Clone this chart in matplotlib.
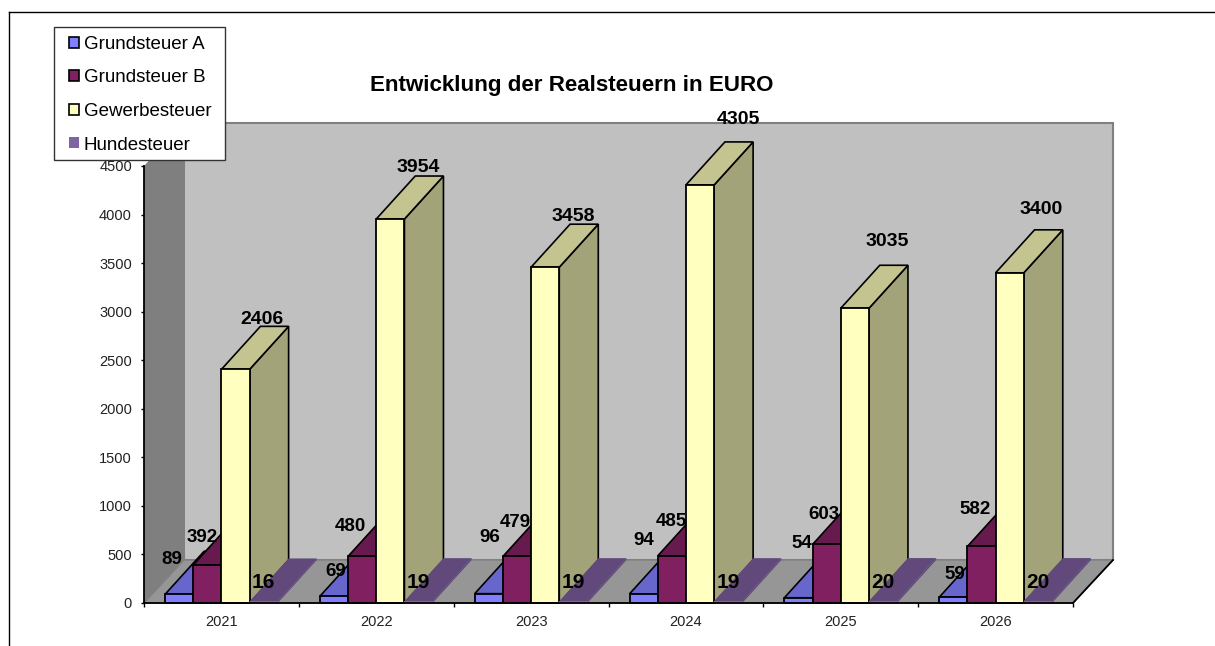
import matplotlib
matplotlib.use("Agg")
import numpy as np
import matplotlib.pyplot as plt
from matplotlib.lines import Line2D
from matplotlib.patches import Patch, Rectangle

plt.rcParams["font.family"] = ["Liberation Sans", "DejaVu Sans"]

years = ["2021", "2022", "2023", "2024", "2025", "2026"]
grundsteuer_a = [89, 69, 96, 94, 54, 59]
grundsteuer_b = [392, 480, 479, 485, 603, 582]
gewerbesteuer = [2406, 3954, 3458, 4305, 3035, 3400]
hundesteuer = [16, 19, 19, 19, 20, 20]

# label nudges in pixels from the top of each bar, they were placed by hand in the original
nudge_a = [(-7, 35), (2, 25), (1, 56), (0, 53), (3, 54), (2, 23)]
nudge_b = [(-5, 27), (-12, 30), (-2, 34), (0, 34), (-3, 30), (-6, 37)]
nudge_c = [(26, 50), (28, 52), (28, 51), (38, 65), (32, 67), (31, 63)]
nudge_d = [(0, 19), (0, 19), (0, 19), (0, 19), (0, 19), (0, 19)]

W, H = 1215, 646
fig = plt.figure(figsize=(W / 100, H / 100), dpi=100, facecolor="white")
left, right, top, bottom = 144, 1073, 166, 603
ax = fig.add_axes([left / W, 1 - bottom / H, (right - left) / W, (bottom - top) / H])
ax.set_xlim(0, 6)
ax.set_ylim(0, 4500)
ax.patch.set_alpha(0)

# depth of the fake 3d box, pixels to data units
px_x = 6 / (right - left)
px_y = 4500 / (bottom - top)
wall_dx, wall_dy = 40 * px_x, 43 * px_y
bar_dx, bar_dy = 39 * px_x, 43 * px_y

# walls and floor
ax.fill([0, wall_dx, wall_dx, 0], [0, wall_dy, 4500 + wall_dy, 4500],
        color="#7f7f7f", lw=0, clip_on=False, zorder=1)
ax.fill([wall_dx, 6 + wall_dx, 6 + wall_dx, wall_dx], [wall_dy, wall_dy, 4500 + wall_dy, 4500 + wall_dy],
        facecolor="#c0c0c0", edgecolor="#808080", lw=1.5, clip_on=False, zorder=1)
ax.fill([0, 6, 6 + wall_dx, wall_dx], [0, 0, wall_dy, wall_dy],
        facecolor="#969696", edgecolor="#808080", lw=1, clip_on=False, zorder=2)
ax.plot([6, 6 + wall_dx], [0, wall_dy], color="black", lw=1.3, clip_on=False, zorder=3)

series = [
    ("Grundsteuer A", grundsteuer_a, "#8080ff", "#6666cc", "#4d4d99", nudge_a, 13.5),
    ("Grundsteuer B", grundsteuer_b, "#802060", "#661a4d", "#4d133a", nudge_b, 13.5),
    ("Gewerbesteuer", gewerbesteuer, "#ffffc0", "#c4c491", "#a3a37a", nudge_c, 14),
    ("Hundesteuer", hundesteuer, "#8064a2", "#614a7b", "#614a7b", nudge_d, 15),
]

bar_w = 28.2 * px_x
z = 4
handles = []
for i, (name, values, front, top_col, side_col, nudges, fsize) in enumerate(series):
    is_flat = name == "Hundesteuer"
    edge = "none" if is_flat else "black"
    for k, v in enumerate(values):
        x = k + 0.5 + (i - 1.5) * bar_w
        x0, x1 = x - bar_w / 2, x + bar_w / 2
        ax.fill([x1, x1 + bar_dx, x1 + bar_dx, x1], [0, bar_dy, v + bar_dy, v],
                facecolor=side_col, edgecolor=edge, lw=1.2, clip_on=False, zorder=z)
        ax.fill([x0, x1, x1 + bar_dx, x0 + bar_dx], [v, v, v + bar_dy, v + bar_dy],
                facecolor=top_col, edgecolor=edge, lw=1.2, clip_on=False, zorder=z)
        ax.bar(x, v, width=bar_w, color=front, edgecolor=edge, linewidth=1.3, clip_on=False, zorder=z + 0.5)
        ax.annotate(str(v), (x, v), xytext=nudges[k], textcoords="offset pixels",
                    ha="center", va="center", fontsize=fsize, fontweight="bold",
                    color="black", zorder=200, annotation_clip=False)
        z += 1
    handles.append(Patch(facecolor=front, edgecolor="none" if is_flat else "black", linewidth=1.2, label=name))

ax.set_xticks(np.arange(7))
ax.set_xticklabels([])
ax.set_xticks(np.arange(6) + 0.5, labels=years, minor=True)
ax.tick_params(axis="x", which="major", length=3, width=1, direction="out")
ax.tick_params(axis="x", which="minor", length=0, pad=9, labelsize=10.5, labelcolor="#222222")
ax.set_yticks(np.arange(0, 4501, 500))
ax.tick_params(axis="y", length=2.2, width=1, direction="out", pad=6.5, labelsize=10.5, labelcolor="#222222")
for s in ["top", "right"]:
    ax.spines[s].set_visible(False)
for s in ["left", "bottom"]:
    ax.spines[s].set_linewidth(1.3)
    ax.spines[s].set_zorder(100)

fig.text(572 / W, 1 - 86 / H, "Entwicklung der Realsteuern in EURO", ha="center", va="center",
         fontsize=16.1, fontweight="bold", color="black")

# legend box drawn by hand, the pads of the original are not the same on all sides
fig.add_artist(Rectangle((54 / W, 1 - 160 / H), 171 / W, 133 / H, transform=fig.transFigure,
                         facecolor="white", edgecolor="#333333", lw=1, zorder=40))
leg = fig.legend(handles=handles, loc="upper left", bbox_to_anchor=(69 / W, 1 - 36 / H),
                 fontsize=13.5, frameon=False,
                 handlelength=0.53, handleheight=0.53, handletextpad=0.25,
                 labelspacing=0.88, borderpad=0, borderaxespad=0)
leg.set_zorder(50)

# border left over from the pasted chart
fig.add_artist(Line2D([9 / W, 1], [1 - 12 / H, 1 - 12 / H], color="black", lw=1))
fig.add_artist(Line2D([9 / W, 9 / W], [1 - 12 / H, 0], color="black", lw=1))

fig.savefig("out.png", dpi=100)
